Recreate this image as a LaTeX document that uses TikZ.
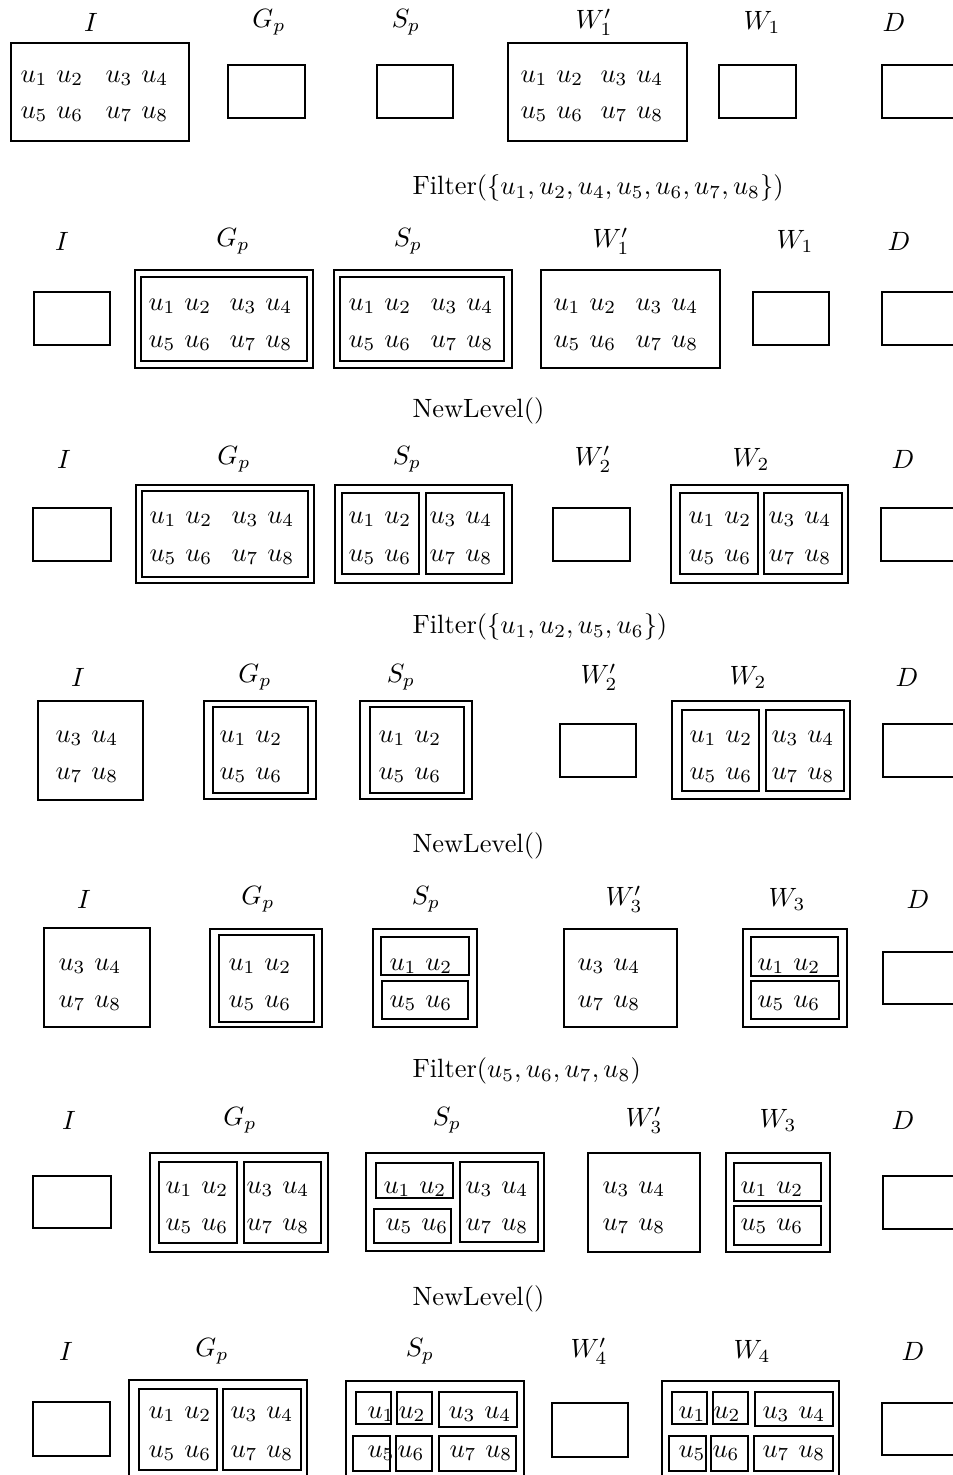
\documentclass[tikz,border=0pt]{standalone}
\newcount\nc
\tikzset{
  bx/.style={draw, line width=0.4pt},
  lab/.style={inner sep=0pt},
  txt/.style={inner sep=0pt, anchor=base west},
  midlab/.style={inner sep=0pt, anchor=west}
}
\newcommand\T[3]{\global\advance\nc by 1\relax\node[txt] (t\the\nc) at (#1,#2) {#3};}
\newcommand\Bx[5]{\draw[bx] (#2,#3) coordinate (#1a) rectangle (#4,#5) coordinate (#1b);}
\newcommand\Lb[4]{\node[lab] (#1) at (#2,#3) {#4};}
\newcommand\LA[3]{\T{#1}{#2}{$u_1$ $u_2$}\T{#1}{#3}{$u_5$ $u_6$}}
\newcommand\LB[3]{\T{#1}{#2}{$u_3$ $u_4$}\T{#1}{#3}{$u_7$ $u_8$}}
\newcommand\Labels[8]{%
  \Lb{#1I}{#2}{#8}{$I$}\Lb{#1G}{#3}{#8}{$G_p$}\Lb{#1S}{#4}{#8}{$S_p$}%
  \Lb{#1Wq}{#5}{#8}{$W'_{\WI}$}\Lb{#1W}{#6}{#8}{$W_{\WI}$}\Lb{#1D}{#7}{#8}{$D$}}
\begin{document}
\begin{tikzpicture}[x=0.378pt,y=-0.378pt]
\useasboundingbox (0,0) rectangle (953,1475);
\fill[white] (0,0) rectangle (953,1475);
\clip (0,0) rectangle (953,1475);

% ---------- Row 1 ----------
\def\WI{1}
\Labels{r1}{91}{269}{406}{594}{762}{894}{22}
\Bx{b1I}{11}{43}{189}{141}
\Bx{b1G}{228}{65}{305}{118}
\Bx{b1S}{377}{65}{453}{118}
\Bx{b1Wq}{508}{43}{687}{141}
\Bx{b1W}{719}{65}{796}{118}
\Bx{b1D}{882}{65}{959}{118}
\LA{20}{82}{118}\LB{105}{82}{118}
\LA{520}{82}{118}\LB{600}{82}{118}
\node[midlab] (m1) at (412,188) {Filter$(\{u_1, u_2, u_4, u_5, u_6, u_7, u_8\})$};

% ---------- Row 2 ----------
\Labels{r2}{62}{233}{408}{611}{795}{899}{241}
\Bx{b2I}{34}{292}{110}{345}
\Bx{b2Go}{135}{270}{313}{368}\Bx{b2Gi}{141}{277}{307}{361}
\Bx{b2So}{334}{270}{512}{368}\Bx{b2Si}{340}{277}{504}{361}
\Bx{b2Wq}{541}{270}{720}{368}
\Bx{b2W}{753}{292}{829}{345}
\Bx{b2D}{882}{292}{959}{345}
\LA{148}{310}{347}\LB{229}{310}{347}
\LA{348}{310}{347}\LB{430}{310}{347}
\LA{553}{310}{347}\LB{635}{310}{347}
\node[midlab] (m2) at (412,411) {NewLevel()};

% ---------- Row 3 ----------
\def\WI{2}
\Labels{r3}{64}{234}{407}{593}{751}{903}{459}
\Bx{b3I}{33}{508}{111}{561}
\Bx{b3Go}{136}{485}{314}{583}\Bx{b3Gi}{142}{491}{308}{577}
\Bx{b3So}{335}{485}{512}{583}\Bx{b3Sa}{342}{493}{419}{574}\Bx{b3Sb}{426}{493}{504}{574}
\Bx{b3Wq}{553}{508}{630}{561}
\Bx{b3Wo}{671}{485}{848}{583}\Bx{b3Wa}{680}{493}{758}{574}\Bx{b3Wb}{764}{493}{842}{574}
\Bx{b3D}{881}{508}{958}{561}
\LA{149}{523}{561}\LB{231}{523}{561}
\LA{348}{523}{561}\LB{429}{523}{561}
\LA{688}{523}{561}\LB{768}{523}{561}
\node[midlab] (m3) at (412,627) {Filter$(\{u_1, u_2, u_5, u_6\})$};

% ---------- Row 4 ----------
\Labels{r4}{78}{255}{401}{599}{748}{907}{677}
\Bx{b4I}{38}{701}{143}{800}
\Bx{b4Go}{204}{701}{316}{799}\Bx{b4Gi}{213}{707}{308}{793}
\Bx{b4So}{360}{701}{472}{799}\Bx{b4Si}{370}{707}{464}{793}
\Bx{b4Wq}{560}{724}{636}{777}
\Bx{b4Wo}{672}{701}{850}{799}\Bx{b4Wa}{682}{710}{759}{791}\Bx{b4Wb}{766}{710}{844}{791}
\Bx{b4D}{883}{724}{960}{777}
\LB{55}{742}{779}
\LA{219}{742}{779}
\LA{378}{742}{779}
\LA{689}{742}{779}\LB{771}{742}{779}
\node[midlab] (m4) at (412,846) {NewLevel()};

% ---------- Row 5 ----------
\def\WI{3}
\Labels{r5}{84}{258}{426}{624}{787}{918}{899}
\Bx{b5I}{44}{928}{150}{1027}
\Bx{b5Go}{210}{929}{322}{1027}\Bx{b5Gi}{219}{935}{314}{1022}
\Bx{b5So}{373}{929}{477}{1027}\Bx{b5Sa}{381}{937}{469}{975}\Bx{b5Sb}{382}{981}{468}{1019}
\Bx{b5Wq}{564}{929}{677}{1027}
\Bx{b5Wo}{743}{929}{847}{1027}\Bx{b5Wa}{751}{937}{838}{976}\Bx{b5Wb}{751}{981}{839}{1019}
\Bx{b5D}{883}{952}{960}{1004}
\LB{58}{970}{1007}
\LA{228}{970}{1007}
\LA{389}{970}{1007}
\LB{577}{970}{1007}
\LA{757}{970}{1007}
\node[midlab] (m5) at (412,1071) {Filter$(u_5, u_6, u_7, u_8)$};

% ---------- Row 6 ----------
\Labels{r6}{69}{240}{447}{644}{778}{903}{1120}
\Bx{b6I}{33}{1176}{111}{1228}
\Bx{b6Go}{150}{1153}{328}{1252}\Bx{b6Ga}{159}{1162}{237}{1243}\Bx{b6Gb}{244}{1162}{321}{1243}
\Bx{b6So}{366}{1153}{544}{1251}\Bx{b6Sa}{376}{1163}{453}{1198}\Bx{b6Sb}{374}{1209}{451}{1243}\Bx{b6Sc}{460}{1162}{538}{1242}
\Bx{b6Wq}{588}{1153}{700}{1252}
\Bx{b6Wo}{726}{1153}{830}{1252}\Bx{b6Wa}{734}{1163}{821}{1201}\Bx{b6Wb}{734}{1206}{821}{1245}
\Bx{b6D}{883}{1176}{960}{1229}
\LA{165}{1193}{1230}\LB{246}{1193}{1230}
\T{383}{1193}{$u_1$ $u_2$}\T{385}{1230}{$u_5$ $u_6$}\LB{465}{1193}{1230}
\LB{602}{1193}{1230}
\LA{740}{1193}{1230}
\node[midlab] (m6) at (412,1299) {NewLevel()};

% ---------- Row 7 ----------
\def\WI{4}
\Labels{r7}{66}{212}{420}{589}{752}{913}{1351}
\Bx{b7I}{33}{1402}{110}{1456}
\Bx{b7Go}{129}{1380}{307}{1480}\Bx{b7Ga}{139}{1389}{217}{1470}\Bx{b7Gb}{223}{1389}{301}{1470}
\Bx{b7So}{346}{1381}{524}{1480}
\Bx{b7Sa}{356}{1392}{391}{1424}\Bx{b7Sb}{397}{1392}{432}{1424}\Bx{b7Sc}{439}{1392}{517}{1427}
\Bx{b7Sd}{353}{1436}{390}{1471}\Bx{b7Se}{396}{1436}{432}{1471}\Bx{b7Sf}{439}{1436}{516}{1471}
\Bx{b7Wq}{552}{1403}{628}{1457}
\Bx{b7Wo}{662}{1381}{839}{1480}
\Bx{b7Wa}{672}{1392}{707}{1424}\Bx{b7Wb}{713}{1392}{748}{1424}\Bx{b7Wc}{755}{1392}{833}{1426}
\Bx{b7Wd}{669}{1436}{706}{1471}\Bx{b7We}{711}{1436}{748}{1471}\Bx{b7Wf}{754}{1436}{833}{1471}
\Bx{b7D}{882}{1403}{959}{1455}
\LA{148}{1418}{1457}\LB{230}{1418}{1457}
\T{367}{1418}{$u_1$}\T{398}{1418}{$u_2$}\T{448}{1418}{$u_3$ $u_4$}
\T{367}{1457}{$u_5$}\T{397}{1457}{$u_6$}\T{449}{1457}{$u_7$ $u_8$}
\T{678}{1418}{$u_1$}\T{713}{1418}{$u_2$}\T{762}{1418}{$u_3$ $u_4$}
\T{678}{1457}{$u_5$}\T{712}{1457}{$u_6$}\T{762}{1457}{$u_7$ $u_8$}
\end{tikzpicture}
\end{document}
